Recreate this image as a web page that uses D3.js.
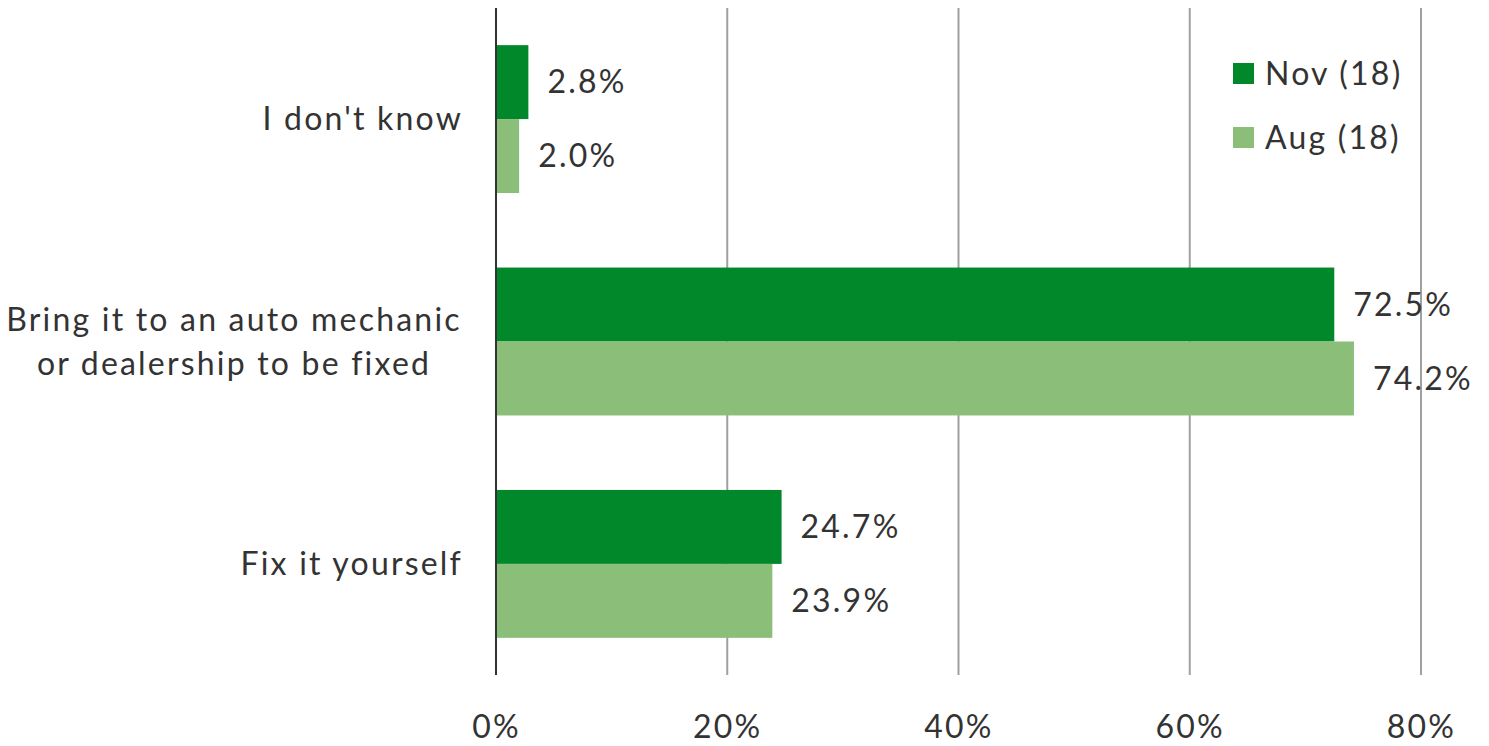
<!DOCTYPE html>
<html>
<head>
<meta charset="utf-8">
<script src="https://cdn.jsdelivr.net/npm/d3@7"></script>
<style>
  body { margin: 0; background: #fff; }
  text { font-family: Lato, "Open Sans", sans-serif; fill: #333; letter-spacing: 2.2px; }
</style>
</head>
<body>
<div id="chart"></div>
<script>
const categories = ["I don't know", 'Bring it to an auto mechanic|or dealership to be fixed', 'Fix it yourself'];
const seriesNames = ['Nov (18)', 'Aug (18)'];
const novValues = [2.8, 72.5, 24.7];
const augValues = [2.0, 74.2, 23.9];
const xTicks = [0, 20, 40, 60, 80];
const colors = ['#00882b', '#8bbe78'];

const width = 1489;
const height = 746;
const margin = { top: 8, right: 60, bottom: 71, left: 496 };
const innerH = height - margin.top - margin.bottom;
const fontSize = '32px';

const svg = d3.select('#chart')
  .append('svg')
  .attr('width', width)
  .attr('height', height);

const g = svg.append('g')
  .attr('transform', `translate(${margin.left},${margin.top})`);

const xScale = d3.scaleLinear()
  .domain([0, 80])
  .range([0, 925]);

const yScale = d3.scaleBand()
  .domain(categories)
  .range([0, innerH])
  .paddingInner(0.335)
  .paddingOuter(0.167);

const sub = d3.scaleBand()
  .domain(seriesNames)
  .range([0, yScale.bandwidth()]);

// gridlines
g.selectAll('.grid')
  .data(xTicks.filter((d) => d > 0))
  .join('line')
  .attr('class', 'grid')
  .attr('x1', (d) => xScale(d))
  .attr('x2', (d) => xScale(d))
  .attr('y1', 0)
  .attr('y2', innerH)
  .style('stroke', '#a0a0a0')
  .style('stroke-width', 2);

const data = [];
categories.forEach((c, i) => {
  data.push({ cat: c, series: seriesNames[0], value: novValues[i], color: colors[0] });
  data.push({ cat: c, series: seriesNames[1], value: augValues[i], color: colors[1] });
});

g.selectAll('.bar')
  .data(data)
  .join('rect')
  .attr('class', 'bar')
  .attr('x', 0)
  .attr('y', (d) => yScale(d.cat) + sub(d.series))
  .attr('width', (d) => xScale(d.value))
  .attr('height', sub.bandwidth())
  .style('fill', (d) => d.color);

g.selectAll('.val')
  .data(data)
  .join('text')
  .attr('class', 'val')
  .attr('x', (d) => xScale(d.value) + 19)
  .attr('y', (d) => yScale(d.cat) + sub(d.series) + sub.bandwidth() / 2)
  .attr('dy', '0.35em')
  .style('font-size', fontSize)
  .text((d) => d.value.toFixed(1) + '%');

// zero axis line
g.append('line')
  .attr('x1', 0).attr('x2', 0)
  .attr('y1', 0).attr('y2', innerH)
  .style('stroke', '#333')
  .style('stroke-width', 2);

// x tick labels
const xAxis = d3.axisBottom(xScale)
  .tickValues(xTicks)
  .tickSize(0)
  .tickPadding(40)
  .tickFormat((d) => d + '%');

const xAxisG = g.append('g')
  .attr('transform', `translate(0,${innerH})`)
  .call(xAxis);
xAxisG.select('.domain').remove();
xAxisG.selectAll('text')
  .style('font-size', fontSize)
  .style('font-family', 'Lato, sans-serif')
  .attr('fill', '#333');

// category labels
const catG = g.selectAll('.cat')
  .data(categories)
  .join('text')
  .attr('class', 'cat')
  .style('font-size', fontSize);

catG.each(function addLines(d) {
  const lines = d.split('|');
  const cy = yScale(d) + yScale.bandwidth() / 2;
  const t = d3.select(this);
  const multi = lines.length > 1;
  t.attr('text-anchor', multi ? 'middle' : 'end');
  lines.forEach((line, i) => {
    t.append('tspan')
      .attr('x', multi ? -262 : -33)
      .attr('y', cy + (i - (lines.length - 1) / 2) * 44)
      .attr('dy', '0.35em')
      .text(line);
  });
});

// legend
const legend = svg.append('g')
  .attr('transform', 'translate(1233,63)');

const items = legend.selectAll('.leg')
  .data(seriesNames)
  .join('g')
  .attr('class', 'leg')
  .attr('transform', (d, i) => `translate(0,${i * 64})`);

items.append('rect')
  .attr('width', 21)
  .attr('height', 21)
  .style('fill', (d, i) => colors[i]);

items.append('text')
  .attr('x', 32)
  .attr('y', 11)
  .attr('dy', '0.35em')
  .style('font-size', fontSize)
  .text((d) => d);
</script>
</body>
</html>
